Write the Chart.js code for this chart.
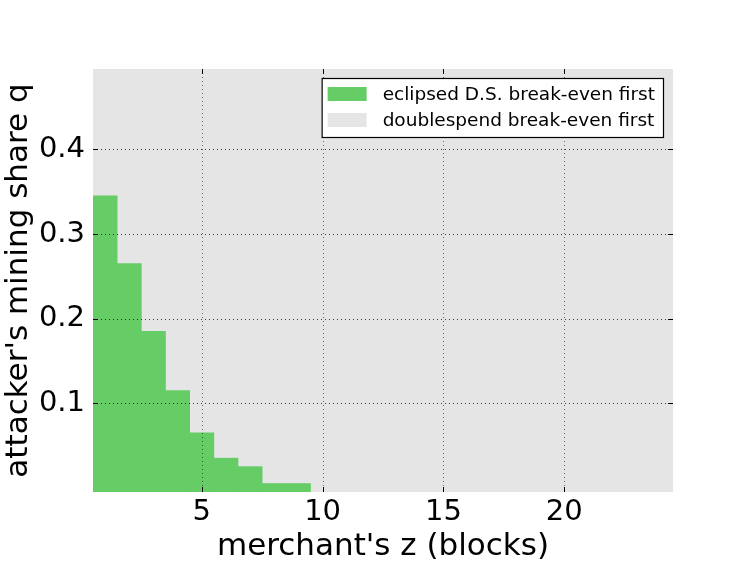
<!DOCTYPE html>
<html lang="en">
<head>
    <meta charset="UTF-8">
    <title>Eclipsed double-spend break-even</title>
    <script src="https://cdn.jsdelivr.net/npm/chart.js"></script>
    <style>
        body {
            margin: 0;
            background: #fff;
        }
        .chart-container {
            position: relative;
            width: 747px;
            height: 561px;
        }
    </style>
</head>
<body>
    <div class="chart-container">
        <canvas id="breakEvenChart"></canvas>
    </div>

    <script>
        // Data
        const zBlocks = [1, 2, 3, 4, 5, 6, 7, 8, 9];
        const qEclipsedFirst = [0.345, 0.265, 0.185, 0.115, 0.065, 0.035, 0.025, 0.005, 0.005];
        const xTickValues = [5, 10, 15, 20];
        const yTickValues = [0.1, 0.2, 0.3, 0.4];
        const xRange = [0.5, 24.5];
        const yRange = [-0.005, 0.495];
        const seriesLabels = ['eclipsed D.S. break-even first', 'doublespend break-even first'];
        const seriesColors = ['#66cc66', '#e5e5e5'];

        const FONT = 'DejaVu Sans';

        // Grey region (doublespend first) fills the whole plot behind the green bars
        const backgroundPlugin = {
            id: 'plotBackground',
            beforeDraw(chart) {
                const { ctx, chartArea } = chart;
                ctx.save();
                ctx.fillStyle = seriesColors[1];
                ctx.fillRect(chartArea.left, chartArea.top, chartArea.width, chartArea.height);
                ctx.restore();
            }
        };

        // Dotted grid over the bars, plus inward tick marks on all four sides
        const gridPlugin = {
            id: 'dottedGrid',
            afterDatasetsDraw(chart) {
                const { ctx, chartArea, scales } = chart;
                const len = 5;
                ctx.save();
                ctx.lineWidth = 1;
                ctx.setLineDash([1, 3]);
                ctx.strokeStyle = 'rgba(0,0,0,0.55)';
                ctx.beginPath();
                xTickValues.forEach(v => {
                    const px = Math.round(scales.x.getPixelForValue(v)) + 0.5;
                    ctx.moveTo(px, chartArea.top);
                    ctx.lineTo(px, chartArea.bottom);
                });
                ctx.stroke();
                ctx.strokeStyle = 'rgba(0,0,0,0.75)';
                ctx.beginPath();
                yTickValues.forEach(v => {
                    const py = Math.round(scales.y.getPixelForValue(v)) + 0.5;
                    ctx.moveTo(chartArea.left, py);
                    ctx.lineTo(chartArea.right, py);
                });
                ctx.stroke();

                ctx.setLineDash([]);
                ctx.strokeStyle = '#000';
                ctx.beginPath();
                xTickValues.forEach(v => {
                    const px = Math.round(scales.x.getPixelForValue(v)) + 0.5;
                    ctx.moveTo(px, chartArea.bottom);
                    ctx.lineTo(px, chartArea.bottom - len);
                    ctx.moveTo(px, chartArea.top);
                    ctx.lineTo(px, chartArea.top + len);
                });
                yTickValues.forEach(v => {
                    const py = Math.round(scales.y.getPixelForValue(v)) + 0.5;
                    ctx.moveTo(chartArea.left, py);
                    ctx.lineTo(chartArea.left + len, py);
                    ctx.moveTo(chartArea.right, py);
                    ctx.lineTo(chartArea.right - len, py);
                });
                ctx.stroke();
                ctx.restore();
            }
        };

        // Boxed legend in the upper right corner of the plot
        const legendPlugin = {
            id: 'boxLegend',
            afterDraw(chart) {
                const { ctx, chartArea } = chart;
                ctx.save();
                ctx.font = '18.5px "' + FONT + '"';
                const textW = Math.max(...seriesLabels.map(t => ctx.measureText(t).width));
                const patchW = 39, patchH = 14, rowH = 26;
                const boxW = 6 + patchW + 16 + textW + 8;
                const boxH = 33 + rowH * (seriesLabels.length - 1);
                const boxX = chartArea.right - 10 - boxW;
                const boxY = chartArea.top + 9;
                ctx.fillStyle = '#fff';
                ctx.fillRect(boxX, boxY, boxW, boxH);
                ctx.strokeStyle = '#000';
                ctx.lineWidth = 1.2;
                ctx.strokeRect(boxX + 0.5, boxY + 0.5, boxW, boxH);
                ctx.textBaseline = 'middle';
                seriesLabels.forEach((label, i) => {
                    const cy = boxY + 16 + i * rowH;
                    ctx.fillStyle = seriesColors[i];
                    ctx.fillRect(boxX + 6, cy - patchH / 2, patchW, patchH);
                    ctx.fillStyle = '#000';
                    ctx.fillText(label, boxX + 6 + patchW + 16, cy + 1);
                });
                ctx.restore();
            }
        };

        const ctx = document.getElementById('breakEvenChart').getContext('2d');
        new Chart(ctx, {
            type: 'bar',
            data: {
                datasets: [{
                    label: seriesLabels[0],
                    data: zBlocks.map((z, i) => ({ x: z, y: qEclipsedFirst[i] })),
                    backgroundColor: seriesColors[0],
                    borderWidth: 0,
                    barPercentage: 1,
                    categoryPercentage: 1,
                    base: yRange[0]
                }]
            },
            options: {
                responsive: true,
                maintainAspectRatio: false,
                animation: false,
                layout: {
                    padding: { top: 69, right: 74, left: 0, bottom: 0 }
                },
                plugins: {
                    legend: { display: false },
                    tooltip: { enabled: false }
                },
                scales: {
                    x: {
                        type: 'linear',
                        min: xRange[0],
                        max: xRange[1],
                        offset: false,
                        afterBuildTicks(scale) {
                            scale.ticks = xTickValues.map(v => ({ value: v }));
                        },
                        afterFit(scale) {
                            scale.height = 69;
                        },
                        grid: {
                            drawOnChartArea: false,
                            drawTicks: false
                        },
                        border: { display: false },
                        ticks: {
                            color: '#000',
                            font: { family: FONT, size: 29 },
                            padding: 3,
                            maxRotation: 0
                        },
                        title: {
                            display: true,
                            text: "merchant's z (blocks)",
                            color: '#000',
                            font: { family: FONT, size: 31 },
                            padding: { top: 0, bottom: -5 }
                        }
                    },
                    y: {
                        type: 'linear',
                        min: yRange[0],
                        max: yRange[1],
                        afterBuildTicks(scale) {
                            scale.ticks = yTickValues.map(v => ({ value: v }));
                        },
                        afterFit(scale) {
                            scale.width = 93;
                        },
                        grid: {
                            drawOnChartArea: false,
                            drawTicks: false
                        },
                        border: { display: false },
                        ticks: {
                            color: '#000',
                            font: { family: FONT, size: 29 },
                            padding: 8,
                            callback: v => v.toFixed(1)
                        },
                        title: {
                            display: true,
                            text: "attacker's mining share q",
                            color: '#000',
                            font: { family: FONT, size: 31 },
                            padding: { top: 0, bottom: 0 }
                        }
                    }
                }
            },
            plugins: [backgroundPlugin, gridPlugin, legendPlugin]
        });
    </script>
</body>
</html>
